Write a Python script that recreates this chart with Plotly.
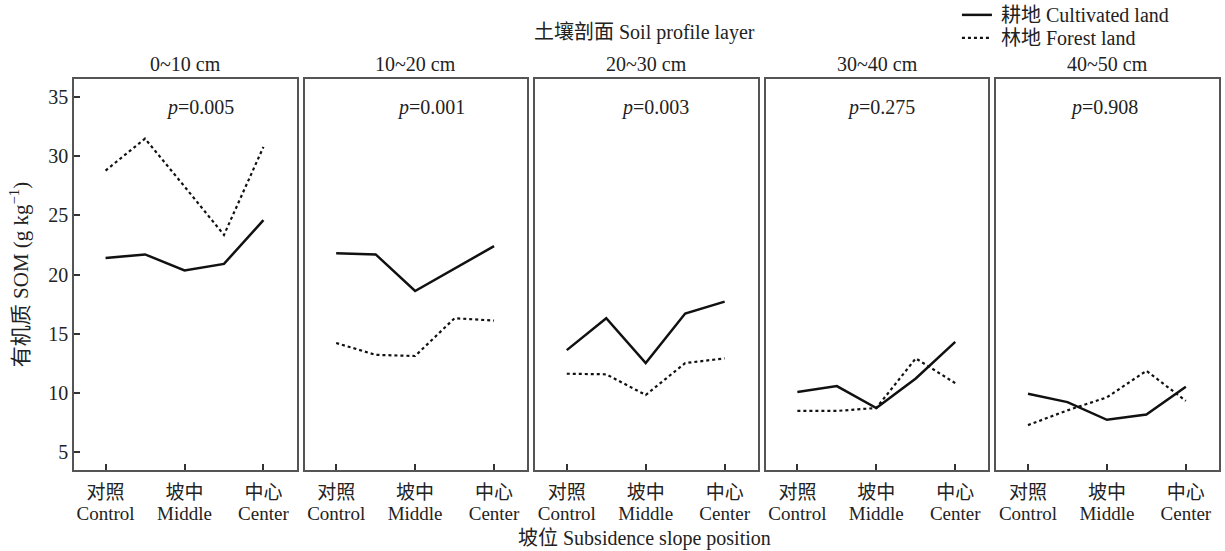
import plotly.graph_objects as go
from plotly.subplots import make_subplots

layers = ["0~10 cm", "10~20 cm", "20~30 cm", "30~40 cm", "40~50 cm"]
p_values = ["0.005", "0.001", "0.003", "0.275", "0.908"]
x_pos = [0, 0.5, 1, 1.5, 2]
tick_vals = [0, 1, 2]
tick_cn = ["对照", "坡中", "中心"]
tick_en = ["Control", "Middle", "Center"]
y_ticks = [5, 10, 15, 20, 25, 30, 35]

cultivated = [
    [21.4, 21.7, 20.35, 20.9, 24.6],
    [21.8, 21.7, 18.6, 20.5, 22.4],
    [13.6, 16.3, 12.5, 16.7, 17.7],
    [10.05, 10.55, 8.7, 11.2, 14.3],
    [9.9, 9.2, 7.7, 8.15, 10.5],
]
forest = [
    [28.8, 31.5, 27.45, 23.35, 30.8],
    [14.2, 13.2, 13.1, 16.3, 16.1],
    [11.6, 11.55, 9.8, 12.5, 12.9],
    [8.45, 8.45, 8.7, 12.9, 10.8],
    [7.25, 8.5, 9.6, 11.85, 9.3],
]
p_xpos = [1.2, 1.2, 1.12, 1.06, 0.96]
legend_names = ["耕地 Cultivated land", "林地 Forest land"]

SERIF = "Liberation Serif, Noto Sans CJK SC"
FS = 20
TXT = "#222"
BIG = '<span style="font-size:19px">{}</span>'
tick_text = [BIG.format(c) + "<br>" + BIG.format(e) for c, e in zip(tick_cn, tick_en)]

fig = make_subplots(rows=1, cols=5, shared_yaxes=False, horizontal_spacing=0.007)

for i in range(5):
    fig.add_trace(go.Scatter(x=x_pos, y=cultivated[i], mode="lines",
                             line=dict(color="#111111", width=2.5),
                             name=legend_names[0], showlegend=False), row=1, col=i + 1)
    fig.add_trace(go.Scatter(x=x_pos, y=forest[i], mode="lines",
                             line=dict(color="#111111", width=2.2, dash="dot"),
                             name=legend_names[1], showlegend=False), row=1, col=i + 1)
    ax = "" if i == 0 else str(i + 1)
    fig.add_annotation(text=layers[i], xref=f"x{ax} domain", yref="paper",
                       x=0.5, y=1.0, yshift=2, yanchor="bottom", showarrow=False,
                       font=dict(family=SERIF, size=FS, color=TXT))
    fig.add_annotation(text=f"<i>p</i>={p_values[i]}", xref=f"x{ax}", yref="y",
                       x=p_xpos[i], y=34.1, yanchor="middle", showarrow=False,
                       font=dict(family=SERIF, size=FS, color=TXT))
    fig.update_xaxes(row=1, col=i + 1, range=[-0.40, 2.42], tickvals=tick_vals,
                     ticktext=tick_text, ticks="inside", ticklen=6, tickwidth=1.5,
                     tickcolor="#333", showline=True, linecolor="#555", linewidth=1.5,
                     mirror=True, showgrid=False, zeroline=False, ticklabelstandoff=7,
                     tickfont=dict(family=SERIF, size=16.5, color=TXT))
    fig.update_yaxes(row=1, col=i + 1, range=[3.45, 36.55], tickvals=y_ticks,
                     ticks="inside" if i == 0 else "", ticklen=6, tickwidth=1.5,
                     tickcolor="#333", showticklabels=(i == 0),
                     showline=True, linecolor="#555", linewidth=1.5, mirror=True,
                     showgrid=False, zeroline=False,
                     tickfont=dict(family=SERIF, size=FS, color=TXT))

fig.update_yaxes(row=1, col=1, title=dict(text="有机质 SOM (g kg<sup>−1</sup>)", standoff=14,
                 font=dict(family=SERIF, size=21, color=TXT)))

fig.add_annotation(text="土壤剖面 Soil profile layer", xref="paper", yref="paper",
                   x=0.498, y=1.118, yanchor="middle", showarrow=False,
                   font=dict(family=SERIF, size=FS, color=TXT))
fig.add_annotation(text="坡位 Subsidence slope position", xref="paper", yref="paper",
                   x=0.498, y=-0.174, yanchor="middle", showarrow=False,
                   font=dict(family=SERIF, size=FS, color=TXT))

# manual legend (line samples + labels)
leg_y = [1.164, 1.105]
leg_dash = ["solid", "dot"]
for name, ly, dash in zip(legend_names, leg_y, leg_dash):
    fig.add_shape(type="line", xref="paper", yref="paper", x0=0.7755, x1=0.8017,
                  y0=ly, y1=ly, line=dict(color="#111111", width=2.5 if dash == "solid" else 2.2,
                                          dash=dash))
    fig.add_annotation(text=name, xref="paper", yref="paper", x=0.808, y=ly,
                       xanchor="left", yanchor="middle", showarrow=False,
                       font=dict(family=SERIF, size=FS, color=TXT))

fig.update_layout(
    width=1225, height=551,
    margin=dict(l=74, r=6, t=79, b=81, autoexpand=False),
    plot_bgcolor="white", paper_bgcolor="white",
    showlegend=False,
)

fig.write_html("out.html", config={"displayModeBar": False},
               post_script="document.body.style.margin='0';")
